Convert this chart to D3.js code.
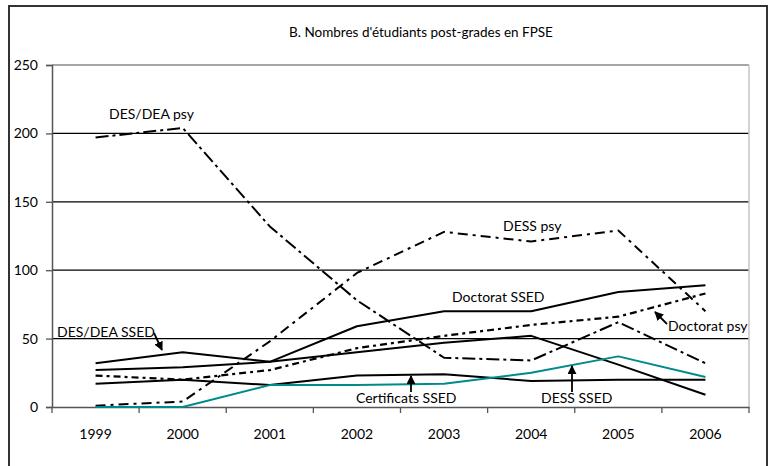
<!DOCTYPE html>
<html><head><meta charset="utf-8">
<script src="https://cdn.jsdelivr.net/npm/d3@7/dist/d3.min.js"></script>
<style>
body{margin:0;background:#fff}
svg{display:block}
text{font-family:Lato,"Open Sans",sans-serif;fill:#000}
</style>
</head><body>
<svg id="chart" width="771" height="466"></svg>
<script>
const title = "B. Nombres d'étudiants post-grades en FPSE";
const years = ["1999","2000","2001","2002","2003","2004","2005","2006"];
const yTicks = [0,50,100,150,200,250];

const desDeaPsy    = [197, 204, 132, 78, 36, 34, 62, 32];
const dessPsy      = [1, 4, 48, 98, 128, 121, 129, 70];
const doctoratPsy  = [23, 20, 27, 43, 52, 60, 66, 83];
const desDeaSsed   = [32, 40, 33, 40, 47, 52, 31, 9];
const doctoratSsed = [27, 29, 33, 59, 70, 70, 84, 89];
const certifSsed   = [17, 20, 16, 23, 24, 19, 20, 20];
const dessSsed     = [0, 0, 16, 16, 17, 25, 37, 22];

const series = [
  {name:"DES/DEA psy",   values:desDeaPsy,    stroke:"#000",    width:2,   dash:"13,4,3,4"},
  {name:"DESS psy",      values:dessPsy,      stroke:"#000",    width:2,   dash:"10,5,3,5"},
  {name:"Doctorat psy",  values:doctoratPsy,  stroke:"#000",    width:2.2, dash:"7,4,3,4"},
  {name:"DES/DEA SSED",  values:desDeaSsed,   stroke:"#000",    width:2,   dash:null},
  {name:"Doctorat SSED", values:doctoratSsed, stroke:"#000",    width:2,   dash:null},
  {name:"Certificats SSED", values:certifSsed, stroke:"#000",   width:2,   dash:null},
  {name:"DESS SSED",     values:dessSsed,     stroke:"#008b8b", width:2,   dash:null}
];

// annotation layout (label text, position, arrow)
const notes = [
  {text:"DES/DEA psy",   x:109, y:119, arrow:null},
  {text:"DESS psy",      x:503, y:231, arrow:null},
  {text:"Doctorat SSED", x:452, y:302, arrow:null},
  {text:"Doctorat psy",  x:668, y:331, arrow:[[667,324],[655,312]]},
  {text:"DES/DEA SSED",  x:57,  y:337, arrow:[[154,333],[162,350]]},
  {text:"Certificats SSED", x:356, y:403, arrow:[[411,392],[411,376]]},
  {text:"DESS SSED",     x:541, y:403, arrow:[[572,392],[572,366]]}
];

const svg = d3.select("#chart");
const L=52, R=749, T=65, B=407;

svg.append("rect").attr("x",9).attr("y",6).attr("width",758).attr("height",480)
  .attr("fill","#fff").attr("stroke","#333").attr("stroke-width",2);

const x = d3.scaleBand().domain(years).range([L,R]);
const y = d3.scaleLinear().domain([0,250]).range([B,T]);

svg.append("text").attr("x",421).attr("y",37).attr("text-anchor","middle")
  .attr("font-size",13.5).text(title);

// gridlines
svg.append("g").selectAll("line").data(yTicks.filter(d=>d>0 && d<250)).join("line")
  .attr("x1",L).attr("x2",R).attr("y1",d=>y(d)).attr("y2",d=>y(d))
  .attr("stroke","#000").attr("stroke-width",1.2);
// top border and right border
svg.append("line").attr("x1",L).attr("x2",R).attr("y1",y(250)).attr("y2",y(250))
  .attr("stroke","#888").attr("stroke-width",1.5);
svg.append("line").attr("x1",R).attr("x2",R).attr("y1",T).attr("y2",B)
  .attr("stroke","#c4c4c4").attr("stroke-width",1.5);

// y axis
const ya = svg.append("g").attr("transform",`translate(${L},0)`)
  .call(d3.axisLeft(y).tickValues(yTicks).tickSize(6).tickPadding(8));
ya.select(".domain").attr("stroke","#555").attr("stroke-width",1.5);
ya.selectAll(".tick line").attr("stroke","#555").attr("stroke-width",1.3);
ya.selectAll("text").attr("font-size",14).attr("font-family","Lato,sans-serif").attr("fill","#000");

// x axis
const xa = svg.append("g").attr("transform",`translate(0,${B})`)
  .call(d3.axisBottom(x).tickSize(0).tickPadding(22));
xa.select(".domain").attr("stroke","#555").attr("stroke-width",1.5);
xa.selectAll("text").attr("font-size",14).attr("font-family","Lato,sans-serif").attr("fill","#000");
const bounds = years.map(d=>x(d)).concat([R]);
svg.append("g").selectAll("line").data(bounds).join("line")
  .attr("x1",d=>d).attr("x2",d=>d).attr("y1",B).attr("y2",B+6)
  .attr("stroke","#555").attr("stroke-width",1.3);

// lines
const line = d3.line().x((d,i)=>x(years[i])+x.bandwidth()/2).y(d=>y(d));
svg.append("g").selectAll("path").data(series).join("path")
  .attr("d",d=>line(d.values)).attr("fill","none")
  .attr("stroke",d=>d.stroke).attr("stroke-width",d=>d.width)
  .attr("stroke-dasharray",d=>d.dash).attr("stroke-linejoin","round");

// annotations
svg.append("defs").append("marker").attr("id","ah").attr("viewBox","0 0 10 10")
  .attr("refX",9).attr("refY",5).attr("markerWidth",5).attr("markerHeight",5)
  .attr("markerUnits","strokeWidth").attr("orient","auto")
  .append("path").attr("d","M0,0L10,5L0,10z").attr("fill","#000");
const ng = svg.append("g");
ng.selectAll("text").data(notes).join("text")
  .attr("x",d=>d.x).attr("y",d=>d.y).attr("font-size",14).text(d=>d.text);
ng.selectAll("line").data(notes.filter(d=>d.arrow)).join("line")
  .attr("x1",d=>d.arrow[0][0]).attr("y1",d=>d.arrow[0][1])
  .attr("x2",d=>d.arrow[1][0]).attr("y2",d=>d.arrow[1][1])
  .attr("stroke","#000").attr("stroke-width",1.8).attr("marker-end","url(#ah)");
</script>
</body></html>
